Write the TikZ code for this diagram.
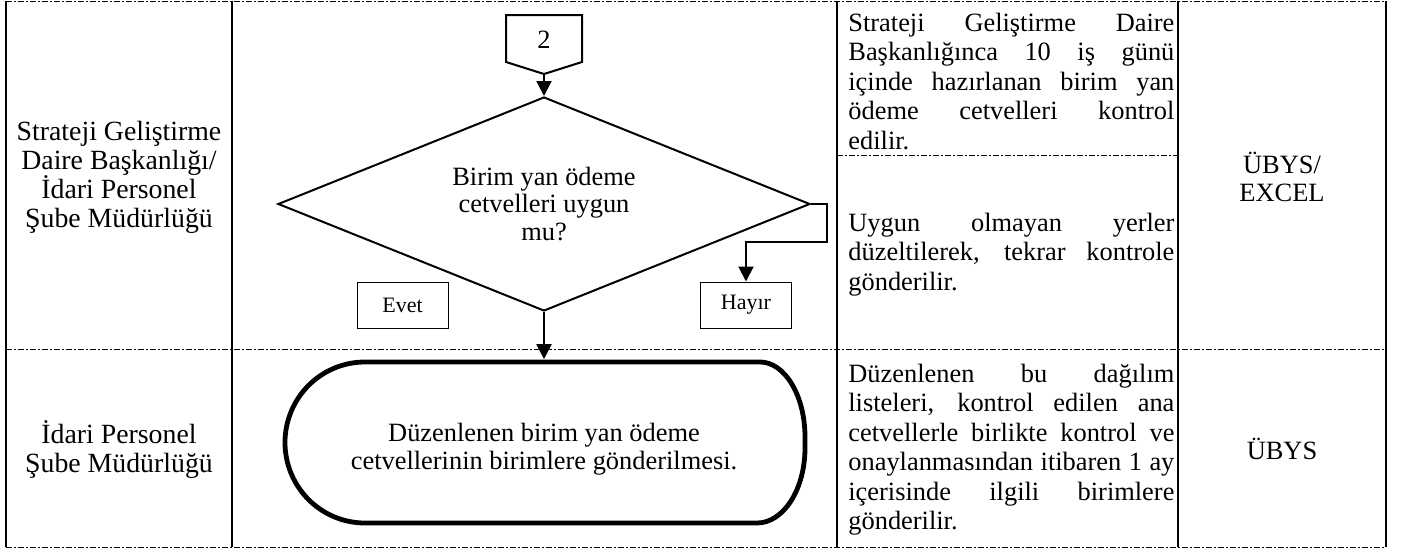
\documentclass[tikz,border=0pt]{standalone}
\usepackage{fontspec}
\setmainfont{Liberation Serif}
\usetikzlibrary{shapes.geometric,arrows.meta}
\newcommand{\jstline}[1]{\makebox[163pt][s]{#1}}
\setlength{\lineskiplimit}{-100pt}
\begin{document}
\begin{tikzpicture}[x=0.5pt,y=-0.5pt,
  vline/.style={line width=1.1pt},
  hline/.style={line width=0.45pt, dash pattern=on 3pt off 1pt on 1pt off 1pt},
  txt/.style={font=\fontsize{13.2}{13.9}\selectfont, align=center, inner sep=0pt},
  unittxt/.style={font=\fontsize{13.9}{14.5}\selectfont, align=center, inner sep=0pt},
  txtj/.style={font=\fontsize{13.2}{14.75}\selectfont, inner sep=0pt, anchor=base west},
  flow/.style={line width=1pt, line join=miter},
  arr/.style={flow, -{Triangle[length=7.5pt,width=7.5pt]}},
  lbl/.style={draw, line width=0.5pt, minimum width=45.5pt, minimum height=23pt, inner sep=0pt, font=\fontsize{11}{12}\selectfont},
  decision/.style={diamond, draw, line width=1pt, minimum width=266pt, minimum height=107pt, inner sep=0pt, aspect=2.5},
  termline/.style={line width=2.4pt, line join=round},
]
\useasboundingbox (0,0) rectangle (1404,552);

% table frame
\draw[hline] (6,1) -- (1386,1);
\draw[hline] (6,349) -- (1386,349);
\draw[hline] (6,547) -- (1386,547);
\draw[hline] (837,155) -- (1178,155);
\foreach \xx in {6,232,837,1178,1386} {\draw[vline] (\xx,1) -- (\xx,547);}

% column 1
\node[unittxt] (unit1) at (119,177) {Strateji Geliştirme\\Daire Başkanlığı/\\İdari Personel\\Şube Müdürlüğü};
\node[unittxt] (unit2) at (119,450) {İdari Personel\\Şube Müdürlüğü};

% column 4
\node[txt] (sys1) at (1282,177) {ÜBYS/\\EXCEL};
\node[txt] (sys2) at (1282,449) {ÜBYS};

% column 3
\node[txtj] (desc1) at (848,31) {\parbox[t]{163pt}{\jstline{Strateji Geliştirme Daire}\\\jstline{Başkanlığınca 10 iş günü}\\\jstline{içinde hazırlanan birim yan}\\\jstline{ödeme cetvelleri kontrol}\\edilir.}};
\node[txtj] (desc2) at (848,231) {\parbox[t]{163pt}{\jstline{Uygun olmayan yerler}\\\jstline{düzeltilerek, tekrar kontrole}\\gönderilir.}};
\node[txtj] (desc3) at (848,382) {\parbox[t]{163pt}{\jstline{Düzenlenen bu dağılım}\\\jstline{listeleri, kontrol edilen ana}\\\jstline{cetvellerle birlikte kontrol ve}\\\jstline{onaylanmasından itibaren 1 ay}\\\jstline{içerisinde ilgili birimlere}\\gönderilir.}};

% off-page connector
\draw[flow] (506,15) -- (582,15) -- (582,62) -- (544,74) -- (506,62) -- cycle;
\coordinate (p2tip) at (544,74);
\node[txt] (n2) at (544,40) {2};

% decision
\node[decision] (dia) at (544,204) {};
\node[txt] (diatxt) at (544,204) {Birim yan ödeme\\cetvelleri uygun\\mu?};

% labels
\node[lbl] (evet) at (402.5,305) {Evet};
\node[lbl] (hayir) at (746,305) {Hayır};

% terminator
\node[minimum width=261pt, minimum height=80.5pt, inner sep=0pt] (term) at (544,442.5) {};
\draw[termline] (365,362) -- (760,362) .. controls (784.8,362) and (805,395.6) .. (805,437) -- (805,448) .. controls (805,489.4) and (783.5,523) .. (757,523) -- (365,523) .. controls (320.8,523) and (285,487) .. (285,442.5) .. controls (285,398) and (320.8,362) .. (365,362) -- cycle;
\node[txt] (termtxt) at (544,449) {Düzenlenen birim yan ödeme\\cetvellerinin birimlere gönderilmesi.};

% connectors
\draw[arr] (p2tip) -- (dia.north);
\draw[arr, shorten >=1.2pt] (dia.south) -- (term.north);
\draw[arr] (dia.east) -- ++(16,0) -- ++(0,38) -| (hayir.north);
\end{tikzpicture}
\end{document}
